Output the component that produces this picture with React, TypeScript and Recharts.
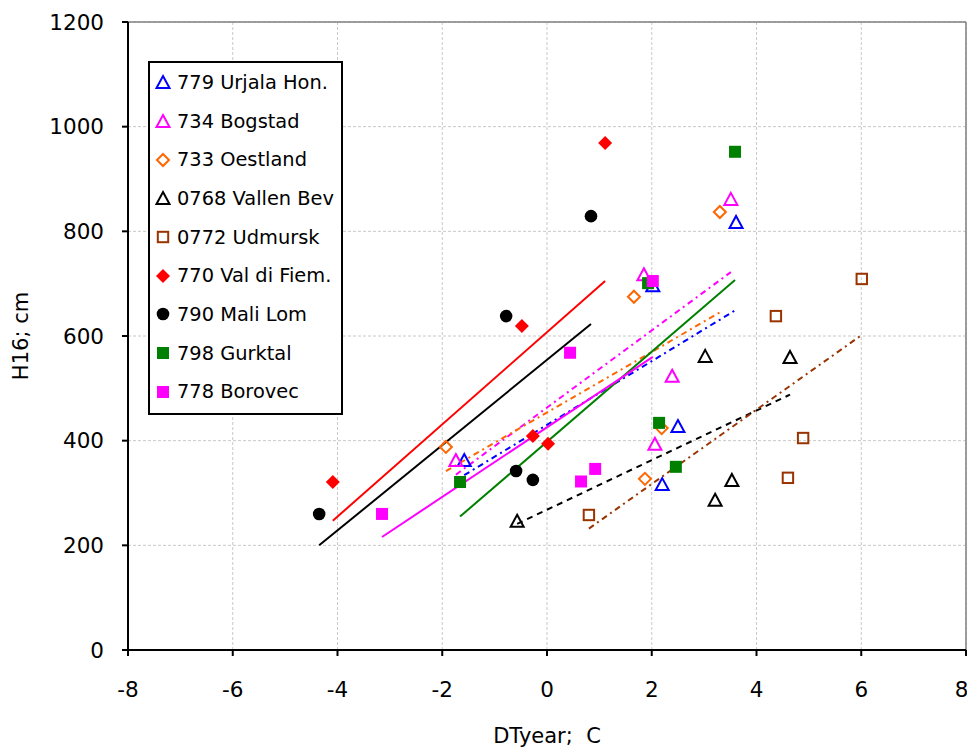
import React from "react";
import { CartesianGrid, Legend, ReferenceLine, Scatter, ScatterChart, XAxis, YAxis } from "recharts";

const FONT = "'DejaVu Sans', sans-serif";

const X_TICKS = [-8, -6, -4, -2, 0, 2, 4, 6, 8];
const Y_TICKS = [0, 200, 400, 600, 800, 1000, 1200];

// measured points (DTyear; H16)
const urjalaX = [-1.58, 2.02, 3.61, 2.5, 2.2];
const urjalaY = [363, 697, 818, 428, 317];
const bogstadX = [-1.74, 1.85, 3.51, 2.39, 2.06];
const bogstadY = [363, 718, 862, 524, 394];
const oestlandX = [-1.93, 1.66, 3.3, 2.19, 1.87];
const oestlandY = [388, 675, 837, 424, 327];
const vallenX = [-0.57, 3.02, 4.64, 3.53, 3.21];
const vallenY = [247, 562, 560, 325, 287];
const udmurskX = [0.8, 4.37, 4.89, 4.6, 6.01];
const udmurskY = [258, 638, 405, 329, 709];
const fiemX = [-4.09, -0.48, 1.11, -0.27, 0.02];
const fiemY = [321, 619, 969, 409, 394];
const lomX = [-4.35, -0.78, 0.84, -0.59, -0.27];
const lomY = [260, 638, 829, 342, 325];
const gurktalX = [-1.66, 1.93, 3.59, 2.14, 2.46];
const gurktalY = [321, 701, 952, 434, 350];
const borovecX = [-3.15, 0.44, 2.02, 0.92, 0.65];
const borovecY = [260, 568, 705, 346, 322];

// trend line end points
const urjalaTrendX = [-1.58, 3.61];
const urjalaTrendY = [334, 650];
const bogstadTrendX = [-1.74, 3.51];
const bogstadTrendY = [335, 722];
const oestlandTrendX = [-1.93, 3.3];
const oestlandTrendY = [342, 645];
const vallenTrendX = [-0.57, 4.64];
const vallenTrendY = [241, 488];
const udmurskTrendX = [0.8, 6.01];
const udmurskTrendY = [232, 602];
const fiemTrendX = [-4.09, 1.11];
const fiemTrendY = [247, 705];
const lomTrendX = [-4.35, 0.84];
const lomTrendY = [200, 623];
const gurktalTrendX = [-1.66, 3.59];
const gurktalTrendY = [255, 707];
const borovecTrendX = [-3.15, 2.02];
const borovecTrendY = [216, 560];

type Kind = "triangle" | "diamond" | "square" | "circle";

const zip = (xs: number[], ys: number[]) => xs.map((x, i) => ({ x, y: ys[i] }));

const SERIES = [
  { name: "779 Urjala Hon.", color: "#0000ff", kind: "triangle" as Kind, filled: false, pts: zip(urjalaX, urjalaY), trend: zip(urjalaTrendX, urjalaTrendY), dash: "6 4 2 4" },
  { name: "734 Bogstad", color: "#ff00ff", kind: "triangle" as Kind, filled: false, pts: zip(bogstadX, bogstadY), trend: zip(bogstadTrendX, bogstadTrendY), dash: "6 4 2 4" },
  { name: "733 Oestland", color: "#ff6600", kind: "diamond" as Kind, filled: false, pts: zip(oestlandX, oestlandY), trend: zip(oestlandTrendX, oestlandTrendY), dash: "6 4 2 4" },
  { name: "0768 Vallen Bev", color: "#000000", kind: "triangle" as Kind, filled: false, pts: zip(vallenX, vallenY), trend: zip(vallenTrendX, vallenTrendY), dash: "6 5" },
  { name: "0772 Udmursk", color: "#993300", kind: "square" as Kind, filled: false, pts: zip(udmurskX, udmurskY), trend: zip(udmurskTrendX, udmurskTrendY), dash: "6 4 2 4" },
  { name: "770 Val di Fiem.", color: "#ff0000", kind: "diamond" as Kind, filled: true, pts: zip(fiemX, fiemY), trend: zip(fiemTrendX, fiemTrendY), dash: undefined },
  { name: "790 Mali Lom", color: "#000000", kind: "circle" as Kind, filled: true, pts: zip(lomX, lomY), trend: zip(lomTrendX, lomTrendY), dash: undefined },
  { name: "798 Gurktal", color: "#008000", kind: "square" as Kind, filled: true, pts: zip(gurktalX, gurktalY), trend: zip(gurktalTrendX, gurktalTrendY), dash: undefined },
  { name: "778 Borovec", color: "#ff00ff", kind: "square" as Kind, filled: true, pts: zip(borovecX, borovecY), trend: zip(borovecTrendX, borovecTrendY), dash: undefined },
];

const Marker = ({ kind, filled, color, cx, cy }: { kind: Kind; filled: boolean; color: string; cx: number; cy: number }) => {
  const fill = filled ? color : "none";
  const sw = filled ? 0 : 2;
  if (kind === "triangle") {
    const w = 6.5, h = 6;
    return <path d={`M${cx},${cy - h}L${cx + w},${cy + h}L${cx - w},${cy + h}Z`} fill={fill} stroke={color} strokeWidth={sw} />;
  }
  if (kind === "diamond") {
    const r = filled ? 7 : 6;
    return <path d={`M${cx},${cy - r}L${cx + r},${cy}L${cx},${cy + r}L${cx - r},${cy}Z`} fill={fill} stroke={color} strokeWidth={sw} />;
  }
  if (kind === "square") {
    const r = filled ? 6 : 5.2;
    return <rect x={cx - r} y={cy - r} width={2 * r} height={2 * r} fill={fill} stroke={color} strokeWidth={sw} />;
  }
  return <circle cx={cx} cy={cy} r={6.3} fill={fill} stroke={color} strokeWidth={sw} />;
};

const renderLegend = () => (
  <div
    style={{
      boxSizing: "border-box",
      width: 195,
      height: 354,
      border: "2px solid #000",
      background: "#fff",
      fontFamily: FONT,
      fontSize: 19.4,
      color: "#000",
    }}
  >
    {SERIES.map((s) => (
      <div key={s.name} style={{ height: 38.7, display: "flex", alignItems: "center", whiteSpace: "nowrap" }}>
        <svg width={27} height={20} style={{ flex: "none" }}>
          <Marker kind={s.kind} filled={s.filled} color={s.color} cx={13} cy={10} />
        </svg>
        <span>{s.name}</span>
      </div>
    ))}
  </div>
);

export default function App() {
  return (
    <ScatterChart width={959} height={741} margin={{ top: 14, right: 1, left: 0, bottom: 0 }} style={{ fontFamily: FONT }}>
      <CartesianGrid stroke="#c8c8c8" strokeDasharray="3 2" />
      <XAxis
        type="number"
        dataKey="x"
        domain={[-8, 8]}
        ticks={X_TICKS}
        allowDataOverflow
        height={99}
        tickSize={6}
        tickMargin={26}
        axisLine={{ stroke: "#000", strokeWidth: 2 }}
        tickLine={{ stroke: "#000", strokeWidth: 2 }}
        tick={{ fill: "#000", fontSize: 21.5, fontFamily: FONT }}
        label={{ value: "DTyear;\u00a0 C", position: "insideBottom", offset: 6, fill: "#000", fontSize: 21, fontFamily: FONT }}
      />
      <YAxis
        type="number"
        dataKey="y"
        domain={[0, 1200]}
        ticks={Y_TICKS}
        allowDataOverflow
        width={120}
        tickSize={6}
        tickMargin={18}
        axisLine={{ stroke: "#000", strokeWidth: 2 }}
        tickLine={{ stroke: "#000", strokeWidth: 2 }}
        tick={{ fill: "#000", fontSize: 21.5, fontFamily: FONT }}
        label={{ value: "H16; cm", angle: -90, position: "insideLeft", offset: 13, fill: "#000", fontSize: 21, fontFamily: FONT, style: { textAnchor: "middle" } }}
      />
      <ReferenceLine y={1200} stroke="#808080" strokeWidth={1.5} />
      <ReferenceLine x={8} stroke="#808080" strokeWidth={1.5} />
      {SERIES.map((s) => (
        <Scatter
          key={`trend-${s.name}`}
          data={s.trend}
          fill={s.color}
          line={{ stroke: s.color, strokeWidth: 2, strokeDasharray: s.dash }}
          shape={() => <g />}
          legendType="none"
          isAnimationActive={false}
        />
      ))}
      {SERIES.map((s) => (
        <Scatter
          key={s.name}
          name={s.name}
          data={s.pts}
          fill={s.color}
          shape={(p: any) => <Marker kind={s.kind} filled={s.filled} color={s.color} cx={p.cx} cy={p.cy} />}
          isAnimationActive={false}
        />
      ))}
      <Legend
        layout="vertical"
        align="center"
        verticalAlign="middle"
        content={renderLegend}
        wrapperStyle={{ left: 140, top: 53, width: 195, height: 354 }}
      />
    </ScatterChart>
  );
}
